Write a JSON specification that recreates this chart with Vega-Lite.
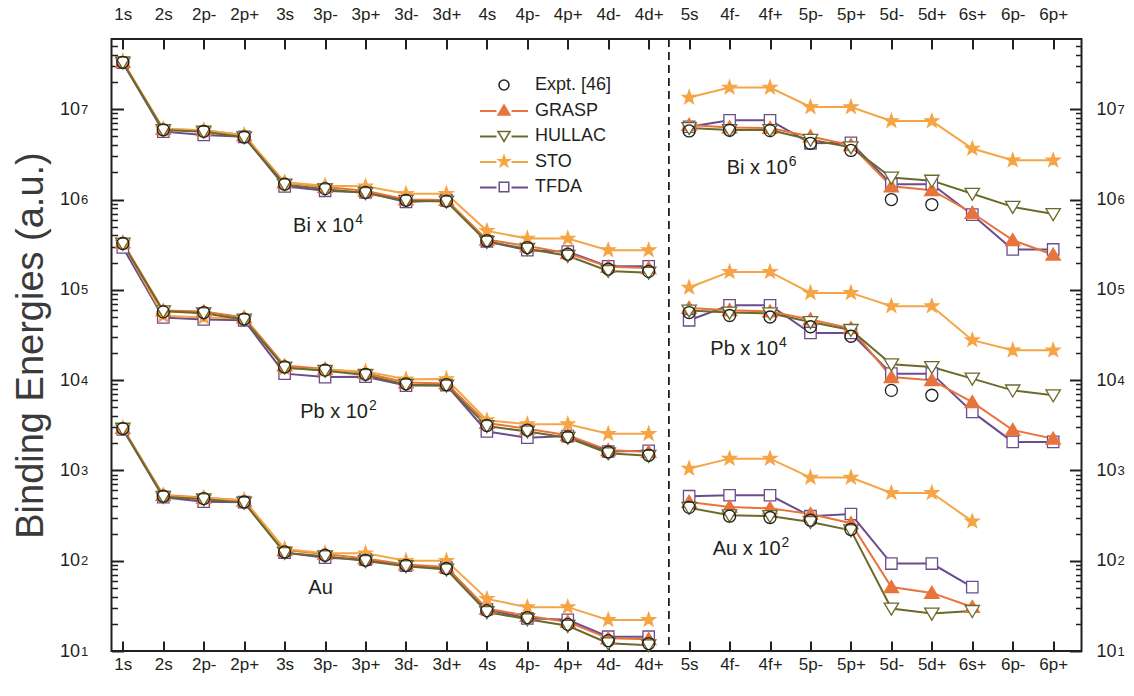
{
  "$schema": "https://vega.github.io/schema/vega-lite/v6.json",
  "width": 970,
  "height": 612,
  "autosize": "none",
  "padding": {"left": 111.5, "top": 39, "right": 52.5, "bottom": 45},
  "background": "white",
  "config": {
    "view": {"stroke": "#231F20", "strokeWidth": 2},
    "font": "Liberation Sans",
    "axis": {"labelFont": "Liberation Sans", "titleFont": "Liberation Sans", "labelColor": "#231F20", "tickColor": "#231F20", "domain": false, "grid": false, "labelFlush": false, "labelOverlap": false},
    "legend": {"labelFont": "Liberation Sans"},
    "text": {"font": "Liberation Sans"}
  },
  "datasets": {
    "energies": [
      {"series": "Bi-L", "pos": 0, "orbital": "1s", "Expt": 3.31e7, "GRASP": 3.35e7, "HULLAC": 3.3e7, "STO": 3.4e7, "TFDA": 3.28e7},
      {"series": "Bi-L", "pos": 1, "orbital": "2s", "Expt": 5.92e6, "GRASP": 6.05e6, "HULLAC": 5.9e6, "STO": 6.0e6, "TFDA": 5.65e6},
      {"series": "Bi-L", "pos": 2, "orbital": "2p-", "Expt": 5.7e6, "GRASP": 5.85e6, "HULLAC": 5.65e6, "STO": 5.85e6, "TFDA": 5.2e6},
      {"series": "Bi-L", "pos": 3, "orbital": "2p+", "Expt": 4.93e6, "GRASP": 5.15e6, "HULLAC": 4.9e6, "STO": 5.2e6, "TFDA": 4.95e6},
      {"series": "Bi-L", "pos": 4, "orbital": "3s", "Expt": 1.48e6, "GRASP": 1.55e6, "HULLAC": 1.47e6, "STO": 1.55e6, "TFDA": 1.4e6},
      {"series": "Bi-L", "pos": 5, "orbital": "3p-", "Expt": 1.32e6, "GRASP": 1.38e6, "HULLAC": 1.3e6, "STO": 1.42e6, "TFDA": 1.25e6},
      {"series": "Bi-L", "pos": 6, "orbital": "3p+", "Expt": 1.2e6, "GRASP": 1.25e6, "HULLAC": 1.18e6, "STO": 1.4e6, "TFDA": 1.2e6},
      {"series": "Bi-L", "pos": 7, "orbital": "3d-", "Expt": 9.8e5, "GRASP": 1.0e6, "HULLAC": 9.7e5, "STO": 1.16e6, "TFDA": 9.4e5},
      {"series": "Bi-L", "pos": 8, "orbital": "3d+", "Expt": 9.6e5, "GRASP": 9.9e5, "HULLAC": 9.5e5, "STO": 1.16e6, "TFDA": 9.8e5},
      {"series": "Bi-L", "pos": 9, "orbital": "4s", "Expt": 3.5e5, "GRASP": 3.6e5, "HULLAC": 3.4e5, "STO": 4.5e5, "TFDA": 3.45e5},
      {"series": "Bi-L", "pos": 10, "orbital": "4p-", "Expt": 2.94e5, "GRASP": 3.05e5, "HULLAC": 2.85e5, "STO": 3.7e5, "TFDA": 2.75e5},
      {"series": "Bi-L", "pos": 11, "orbital": "4p+", "Expt": 2.48e5, "GRASP": 2.55e5, "HULLAC": 2.38e5, "STO": 3.7e5, "TFDA": 2.65e5},
      {"series": "Bi-L", "pos": 12, "orbital": "4d-", "Expt": 1.7e5, "GRASP": 1.8e5, "HULLAC": 1.62e5, "STO": 2.75e5, "TFDA": 1.82e5},
      {"series": "Bi-L", "pos": 13, "orbital": "4d+", "Expt": 1.6e5, "GRASP": 1.74e5, "HULLAC": 1.55e5, "STO": 2.75e5, "TFDA": 1.82e5},

      {"series": "Pb-L", "pos": 0, "orbital": "1s", "Expt": 3.26e5, "GRASP": 3.35e5, "HULLAC": 3.25e5, "STO": 3.3e5, "TFDA": 2.95e5},
      {"series": "Pb-L", "pos": 1, "orbital": "2s", "Expt": 5.7e4, "GRASP": 5.9e4, "HULLAC": 5.8e4, "STO": 5.15e4, "TFDA": 4.95e4},
      {"series": "Pb-L", "pos": 2, "orbital": "2p-", "Expt": 5.6e4, "GRASP": 5.75e4, "HULLAC": 5.5e4, "STO": 4.95e4, "TFDA": 4.7e4},
      {"series": "Pb-L", "pos": 3, "orbital": "2p+", "Expt": 4.75e4, "GRASP": 4.95e4, "HULLAC": 4.7e4, "STO": 4.8e4, "TFDA": 4.6e4},
      {"series": "Pb-L", "pos": 4, "orbital": "3s", "Expt": 1.4e4, "GRASP": 1.45e4, "HULLAC": 1.38e4, "STO": 1.35e4, "TFDA": 1.18e4},
      {"series": "Pb-L", "pos": 5, "orbital": "3p-", "Expt": 1.29e4, "GRASP": 1.33e4, "HULLAC": 1.27e4, "STO": 1.3e4, "TFDA": 1.08e4},
      {"series": "Pb-L", "pos": 6, "orbital": "3p+", "Expt": 1.16e4, "GRASP": 1.2e4, "HULLAC": 1.14e4, "STO": 1.25e4, "TFDA": 1.09e4},
      {"series": "Pb-L", "pos": 7, "orbital": "3d-", "Expt": 9100, "GRASP": 9400, "HULLAC": 8900, "STO": 1.02e4, "TFDA": 8700},
      {"series": "Pb-L", "pos": 8, "orbital": "3d+", "Expt": 8900, "GRASP": 9200, "HULLAC": 8700, "STO": 1.03e4, "TFDA": 8800},
      {"series": "Pb-L", "pos": 9, "orbital": "4s", "Expt": 3150, "GRASP": 3350, "HULLAC": 3100, "STO": 3600, "TFDA": 2700},
      {"series": "Pb-L", "pos": 10, "orbital": "4p-", "Expt": 2800, "GRASP": 2900, "HULLAC": 2700, "STO": 3250, "TFDA": 2300},
      {"series": "Pb-L", "pos": 11, "orbital": "4p+", "Expt": 2350, "GRASP": 2450, "HULLAC": 2300, "STO": 3250, "TFDA": 2400},
      {"series": "Pb-L", "pos": 12, "orbital": "4d-", "Expt": 1600, "GRASP": 1680, "HULLAC": 1550, "STO": 2550, "TFDA": 1620},
      {"series": "Pb-L", "pos": 13, "orbital": "4d+", "Expt": 1470, "GRASP": 1600, "HULLAC": 1450, "STO": 2550, "TFDA": 1650},

      {"series": "Au-L", "pos": 0, "orbital": "1s", "Expt": 2910, "GRASP": 2950, "HULLAC": 2900, "STO": 2950, "TFDA": 2850},
      {"series": "Au-L", "pos": 1, "orbital": "2s", "Expt": 518, "GRASP": 535, "HULLAC": 510, "STO": 525, "TFDA": 505},
      {"series": "Au-L", "pos": 2, "orbital": "2p-", "Expt": 488, "GRASP": 500, "HULLAC": 480, "STO": 495, "TFDA": 450},
      {"series": "Au-L", "pos": 3, "orbital": "2p+", "Expt": 447, "GRASP": 462, "HULLAC": 440, "STO": 470, "TFDA": 445},
      {"series": "Au-L", "pos": 4, "orbital": "3s", "Expt": 125, "GRASP": 131, "HULLAC": 122, "STO": 135, "TFDA": 123},
      {"series": "Au-L", "pos": 5, "orbital": "3p-", "Expt": 115, "GRASP": 119, "HULLAC": 112, "STO": 121, "TFDA": 108},
      {"series": "Au-L", "pos": 6, "orbital": "3p+", "Expt": 101, "GRASP": 106, "HULLAC": 99, "STO": 121, "TFDA": 103},
      {"series": "Au-L", "pos": 7, "orbital": "3d-", "Expt": 89, "GRASP": 91, "HULLAC": 87, "STO": 100, "TFDA": 88},
      {"series": "Au-L", "pos": 8, "orbital": "3d+", "Expt": 82, "GRASP": 85, "HULLAC": 80, "STO": 100, "TFDA": 84},
      {"series": "Au-L", "pos": 9, "orbital": "4s", "Expt": 28, "GRASP": 29.5, "HULLAC": 27, "STO": 37.8, "TFDA": 29},
      {"series": "Au-L", "pos": 10, "orbital": "4p-", "Expt": 23.4, "GRASP": 24.5, "HULLAC": 22.5, "STO": 30.6, "TFDA": 23},
      {"series": "Au-L", "pos": 11, "orbital": "4p+", "Expt": 19.7, "GRASP": 21, "HULLAC": 19, "STO": 30.6, "TFDA": 22.2},
      {"series": "Au-L", "pos": 12, "orbital": "4d-", "Expt": 13.0, "GRASP": 13.8, "HULLAC": 12.2, "STO": 22.1, "TFDA": 14.4},
      {"series": "Au-L", "pos": 13, "orbital": "4d+", "Expt": 12.1, "GRASP": 13.5, "HULLAC": 11.6, "STO": 22.1, "TFDA": 14.4},

      {"series": "Bi-R", "pos": 14, "orbital": "5s", "Expt": 5.75e6, "GRASP": 6.7e6, "HULLAC": 6.2e6, "STO": 1.35e7, "TFDA": 6.4e6},
      {"series": "Bi-R", "pos": 15, "orbital": "4f-", "Expt": 5.85e6, "GRASP": 6.3e6, "HULLAC": 5.9e6, "STO": 1.74e7, "TFDA": 7.55e6},
      {"series": "Bi-R", "pos": 16, "orbital": "4f+", "Expt": 5.8e6, "GRASP": 6.2e6, "HULLAC": 5.9e6, "STO": 1.74e7, "TFDA": 7.55e6},
      {"series": "Bi-R", "pos": 17, "orbital": "5p-", "Expt": 4.2e6, "GRASP": 5.0e6, "HULLAC": 4.6e6, "STO": 1.06e7, "TFDA": 4.2e6},
      {"series": "Bi-R", "pos": 18, "orbital": "5p+", "Expt": 3.5e6, "GRASP": 4.0e6, "HULLAC": 3.8e6, "STO": 1.06e7, "TFDA": 4.25e6},
      {"series": "Bi-R", "pos": 19, "orbital": "5d-", "Expt": 1.0e6, "GRASP": 1.4e6, "HULLAC": 1.75e6, "STO": 7.4e6, "TFDA": 1.48e6},
      {"series": "Bi-R", "pos": 20, "orbital": "5d+", "Expt": 8.8e5, "GRASP": 1.27e6, "HULLAC": 1.62e6, "STO": 7.4e6, "TFDA": 1.48e6},
      {"series": "Bi-R", "pos": 21, "orbital": "6s+", "GRASP": 7.1e5, "HULLAC": 1.16e6, "STO": 3.67e6, "TFDA": 6.8e5},
      {"series": "Bi-R", "pos": 22, "orbital": "6p-", "GRASP": 3.55e5, "HULLAC": 8.3e5, "STO": 2.72e6, "TFDA": 2.8e5},
      {"series": "Bi-R", "pos": 23, "orbital": "6p+", "GRASP": 2.45e5, "HULLAC": 6.9e5, "STO": 2.72e6, "TFDA": 2.8e5},

      {"series": "Pb-R", "pos": 14, "orbital": "5s", "Expt": 5.6e4, "GRASP": 6.3e4, "HULLAC": 5.9e4, "STO": 1.06e5, "TFDA": 4.6e4},
      {"series": "Pb-R", "pos": 15, "orbital": "4f-", "Expt": 5.2e4, "GRASP": 5.95e4, "HULLAC": 5.6e4, "STO": 1.58e5, "TFDA": 6.75e4},
      {"series": "Pb-R", "pos": 16, "orbital": "4f+", "Expt": 5.0e4, "GRASP": 5.75e4, "HULLAC": 5.5e4, "STO": 1.58e5, "TFDA": 6.75e4},
      {"series": "Pb-R", "pos": 17, "orbital": "5p-", "Expt": 3.9e4, "GRASP": 4.7e4, "HULLAC": 4.4e4, "STO": 9.25e4, "TFDA": 3.33e4},
      {"series": "Pb-R", "pos": 18, "orbital": "5p+", "Expt": 3.06e4, "GRASP": 3.75e4, "HULLAC": 3.6e4, "STO": 9.25e4, "TFDA": 3.33e4},
      {"series": "Pb-R", "pos": 19, "orbital": "5d-", "Expt": 7700, "GRASP": 1.08e4, "HULLAC": 1.5e4, "STO": 6.6e4, "TFDA": 1.18e4},
      {"series": "Pb-R", "pos": 20, "orbital": "5d+", "Expt": 6800, "GRASP": 1.0e4, "HULLAC": 1.4e4, "STO": 6.6e4, "TFDA": 1.18e4},
      {"series": "Pb-R", "pos": 21, "orbital": "6s+", "GRASP": 5700, "HULLAC": 1.04e4, "STO": 2.77e4, "TFDA": 4450},
      {"series": "Pb-R", "pos": 22, "orbital": "6p-", "GRASP": 2800, "HULLAC": 7700, "STO": 2.14e4, "TFDA": 2070},
      {"series": "Pb-R", "pos": 23, "orbital": "6p+", "GRASP": 2250, "HULLAC": 6800, "STO": 2.14e4, "TFDA": 2070},

      {"series": "Au-R", "pos": 14, "orbital": "5s", "Expt": 390, "GRASP": 448, "HULLAC": 385, "STO": 1050, "TFDA": 518},
      {"series": "Au-R", "pos": 15, "orbital": "4f-", "Expt": 311, "GRASP": 394, "HULLAC": 318, "STO": 1350, "TFDA": 531},
      {"series": "Au-R", "pos": 16, "orbital": "4f+", "Expt": 301, "GRASP": 380, "HULLAC": 312, "STO": 1350, "TFDA": 531},
      {"series": "Au-R", "pos": 17, "orbital": "5p-", "Expt": 281, "GRASP": 329, "HULLAC": 269, "STO": 834, "TFDA": 311},
      {"series": "Au-R", "pos": 18, "orbital": "5p+", "Expt": 222, "GRASP": 260, "HULLAC": 217, "STO": 834, "TFDA": 329},
      {"series": "Au-R", "pos": 19, "orbital": "5d-", "GRASP": 51, "HULLAC": 29.5, "STO": 563, "TFDA": 93},
      {"series": "Au-R", "pos": 20, "orbital": "5d+", "GRASP": 44, "HULLAC": 26, "STO": 563, "TFDA": 93},
      {"series": "Au-R", "pos": 21, "orbital": "6s+", "GRASP": 30.7, "HULLAC": 27.8, "STO": 273, "TFDA": 51}
    ],
    "notes": [
      {"side": "L", "pos": 5.72, "energy": 4.37e5, "label": "Bi x 10", "power": "4"},
      {"side": "L", "pos": 6.06, "energy": 3760, "label": "Pb x 10", "power": "2"},
      {"side": "L", "pos": 5.19, "energy": 42.6, "label": "Au", "power": ""},
      {"side": "R", "pos": 16.44, "energy": 1.94e6, "label": "Bi x 10", "power": "6"},
      {"side": "R", "pos": 16.2, "energy": 1.89e4, "label": "Pb x 10", "power": "4"},
      {"side": "R", "pos": 16.26, "energy": 115, "label": "Au x 10", "power": "2"}
    ],
    "divider": [{"pos": 13.5}]
  },
  "resolve": {"axis": {"x": "independent", "y": "independent"}},
  "layer": [
    {
      "data": {"name": "energies"},
      "transform": [
        {"fold": ["TFDA", "GRASP", "STO", "HULLAC", "Expt"], "as": ["method", "energy"]},
        {"filter": "datum.method != 'Expt' && isValid(datum.energy)"}
      ],
      "mark": {"type": "line", "strokeWidth": 2},
      "encoding": {
        "x": {
          "field": "pos", "type": "quantitative",
          "scale": {"domain": [-0.28, 23.7], "nice": false, "zero": false},
          "axis": {
            "orient": "bottom",
            "values": [0,1,2,3,4,5,6,7,8,9,10,11,12,13,14,15,16,17,18,19,20,21,22,23],
            "labelExpr": "['1s','2s','2p-','2p+','3s','3p-','3p+','3d-','3d+','4s','4p-','4p+','4d-','4d+','5s','4f-','4f+','5p-','5p+','5d-','5d+','6s+','6p-','6p+'][datum.value]",
            "tickSize": -10, "tickWidth": 2, "labelPadding": 15, "labelFontSize": 17, "title": null
          }
        },
        "y": {
          "field": "energy", "type": "quantitative",
          "scale": {"type": "log", "domain": [10, 6e7], "nice": false},
          "axis": {
            "orient": "left",
            "values": [10, 100, 1000, 10000, 100000, 1000000, 10000000],
            "labelExpr": "'10'",
            "tickSize": -12, "tickWidth": 2, "labelPadding": 44, "labelFontSize": 18,
            "title": "Binding Energies (a.u.)", "titleFontSize": 38, "titleFontWeight": "normal",
            "titleColor": "#3a3a3a", "titlePadding": 9
          }
        },
        "stroke": {
          "field": "method", "type": "nominal",
          "scale": {"domain": ["GRASP", "HULLAC", "STO", "TFDA"], "range": ["#E8743C", "#6B6A2A", "#F5A545", "#6B4C8E"]},
          "legend": {
            "orient": "none", "legendX": 383.5, "legendY": 63, "title": null, "padding": 0,
            "labelFontSize": 18, "labelOpacity": 0, "labelOffset": 22, "rowPadding": 7.5,
            "symbolType": "M-4.8,0H-1.5M1.5,0H4.8", "symbolSize": 100, "symbolStrokeWidth": 2
          }
        },
        "detail": {"field": "series", "type": "nominal"}
      }
    },
    {
      "data": {"name": "energies"},
      "transform": [
        {"fold": ["TFDA", "GRASP", "STO", "HULLAC", "Expt"], "as": ["method", "energy"]},
        {"filter": "isValid(datum.energy)"}
      ],
      "mark": {"type": "point", "filled": false, "size": 144, "strokeWidth": 1.3, "opacity": 1},
      "encoding": {
        "x": {
          "field": "pos", "type": "quantitative",
          "axis": {
            "orient": "top",
            "values": [0,1,2,3,4,5,6,7,8,9,10,11,12,13,14,15,16,17,18,19,20,21,22,23],
            "labelExpr": "['1s','2s','2p-','2p+','3s','3p-','3p+','3d-','3d+','4s','4p-','4p+','4d-','4d+','5s','4f-','4f+','5p-','5p+','5d-','5d+','6s+','6p-','6p+'][datum.value]",
            "tickSize": -10, "tickWidth": 2, "labelPadding": 26, "labelFontSize": 17, "title": null
          }
        },
        "y": {
          "field": "energy", "type": "quantitative",
          "axis": {
            "orient": "right",
            "values": [10, 100, 1000, 10000, 100000, 1000000, 10000000],
            "labelExpr": "'10'",
            "tickSize": -12, "tickWidth": 2, "labelPadding": 26.5, "labelFontSize": 18, "title": null
          }
        },
        "color": {
          "field": "method", "type": "nominal",
          "scale": {"domain": ["Expt", "GRASP", "HULLAC", "STO", "TFDA"], "range": ["#231F20", "#E8743C", "#6B6A2A", "#F5A545", "#6B4C8E"]},
          "legend": {
            "orient": "none", "legendX": 383.5, "legendY": 37, "title": null, "padding": 0,
            "labelFontSize": 18, "labelColor": "#231F20", "labelOffset": 22, "rowPadding": 7.5,
            "symbolSize": 100, "symbolStrokeWidth": 1.5, "symbolFillColor": "white", "symbolStrokeColor": "#231F20",
            "labelExpr": "datum.label == 'Expt' ? 'Expt. [46]' : datum.label"
          }
        },
        "fill": {
          "field": "method", "type": "nominal",
          "scale": {"domain": ["Expt", "GRASP", "HULLAC", "STO", "TFDA"], "range": ["transparent", "#E8743C", "white", "#F5A545", "white"]},
          "legend": {
            "orient": "none", "legendX": 383.5, "legendY": 37, "title": null, "padding": 0,
            "labelFontSize": 18, "labelColor": "#231F20", "labelOffset": 22, "rowPadding": 7.5,
            "symbolSize": 100, "symbolStrokeWidth": 1.5, "symbolFillColor": "white", "symbolStrokeColor": "#231F20",
            "labelExpr": "datum.label == 'Expt' ? 'Expt. [46]' : datum.label"
          }
        },
        "shape": {
          "field": "method", "type": "nominal",
          "scale": {
            "domain": ["Expt", "GRASP", "HULLAC", "STO", "TFDA"],
            "range": [
              "circle",
              "M0,-1.1L1.2,0.9L-1.2,0.9Z",
              "M0,1.1L1.2,-0.9L-1.2,-0.9Z",
              "M0,-1.2L0.28,-0.39L1.14,-0.37L0.46,0.15L0.71,0.97L0,0.48L-0.71,0.97L-0.46,0.15L-1.14,-0.37L-0.28,-0.39Z",
              "M-0.95,-0.95H0.95V0.95H-0.95Z"
            ]
          },
          "legend": {
            "orient": "none", "legendX": 383.5, "legendY": 37, "title": null, "padding": 0,
            "labelFontSize": 18, "labelColor": "#231F20", "labelOffset": 22, "rowPadding": 7.5,
            "symbolSize": 100, "symbolStrokeWidth": 1.5, "symbolFillColor": "white", "symbolStrokeColor": "#231F20",
            "labelExpr": "datum.label == 'Expt' ? 'Expt. [46]' : datum.label"
          }
        }
      }
    },
    {
      "data": {"name": "notes"},
      "transform": [{"filter": "datum.side == 'L'"}],
      "mark": {"type": "text", "align": "right", "baseline": "alphabetic", "fontSize": 20, "color": "#231F20"},
      "encoding": {
        "x": {"field": "pos", "type": "quantitative", "axis": null},
        "y": {
          "field": "energy", "type": "quantitative",
          "axis": {
            "orient": "left",
            "values": [20,30,40,50,60,70,80,90,200,300,400,500,600,700,800,900,2000,3000,4000,5000,6000,7000,8000,9000,20000,30000,40000,50000,60000,70000,80000,90000,200000,300000,400000,500000,600000,700000,800000,900000,2000000,3000000,4000000,5000000,6000000,7000000,8000000,9000000,20000000,30000000,40000000,50000000],
            "tickSize": -6, "tickWidth": 1.5, "labels": false, "title": null
          }
        },
        "text": {"field": "label", "type": "nominal"}
      }
    },
    {
      "data": {"name": "notes"},
      "transform": [{"filter": "datum.side == 'R'"}],
      "mark": {"type": "text", "align": "right", "baseline": "alphabetic", "fontSize": 20, "color": "#231F20"},
      "encoding": {
        "x": {"field": "pos", "type": "quantitative", "axis": null},
        "y": {
          "field": "energy", "type": "quantitative",
          "axis": {
            "orient": "right",
            "values": [20,30,40,50,60,70,80,90,200,300,400,500,600,700,800,900,2000,3000,4000,5000,6000,7000,8000,9000,20000,30000,40000,50000,60000,70000,80000,90000,200000,300000,400000,500000,600000,700000,800000,900000,2000000,3000000,4000000,5000000,6000000,7000000,8000000,9000000,20000000,30000000,40000000,50000000],
            "tickSize": -6, "tickWidth": 1.5, "labels": false, "title": null
          }
        },
        "text": {"field": "label", "type": "nominal"}
      }
    },
    {
      "data": {"name": "notes"},
      "transform": [{"filter": "datum.side == 'L'"}],
      "mark": {"type": "text", "align": "left", "baseline": "alphabetic", "fontSize": 14, "dx": 1, "dy": -8, "color": "#231F20"},
      "encoding": {
        "x": {"field": "pos", "type": "quantitative", "axis": null},
        "y": {
          "field": "energy", "type": "quantitative",
          "axis": {
            "orient": "left",
            "values": [10, 100, 1000, 10000, 100000, 1000000, 10000000],
            "labelExpr": "'' + round(log(datum.value) / LN10)",
            "ticks": false, "labelAlign": "left", "labelPadding": 31, "labelDy": -7, "labelFontSize": 13, "title": null
          }
        },
        "text": {"field": "power", "type": "nominal"}
      }
    },
    {
      "data": {"name": "notes"},
      "transform": [{"filter": "datum.side == 'R'"}],
      "mark": {"type": "text", "align": "left", "baseline": "alphabetic", "fontSize": 14, "dx": 1, "dy": -8, "color": "#231F20"},
      "encoding": {
        "x": {"field": "pos", "type": "quantitative", "axis": null},
        "y": {
          "field": "energy", "type": "quantitative",
          "axis": {
            "orient": "right",
            "values": [10, 100, 1000, 10000, 100000, 1000000, 10000000],
            "labelExpr": "'' + round(log(datum.value) / LN10)",
            "ticks": false, "labelAlign": "left", "labelPadding": 35.5, "labelDy": -7, "labelFontSize": 13, "title": null
          }
        },
        "text": {"field": "power", "type": "nominal"}
      }
    },
    {
      "data": {"name": "divider"},
      "mark": {"type": "rule", "strokeDash": [8, 5], "strokeWidth": 1.8, "color": "#231F20"},
      "encoding": {
        "x": {"field": "pos", "type": "quantitative", "axis": null}
      }
    }
  ]
}
